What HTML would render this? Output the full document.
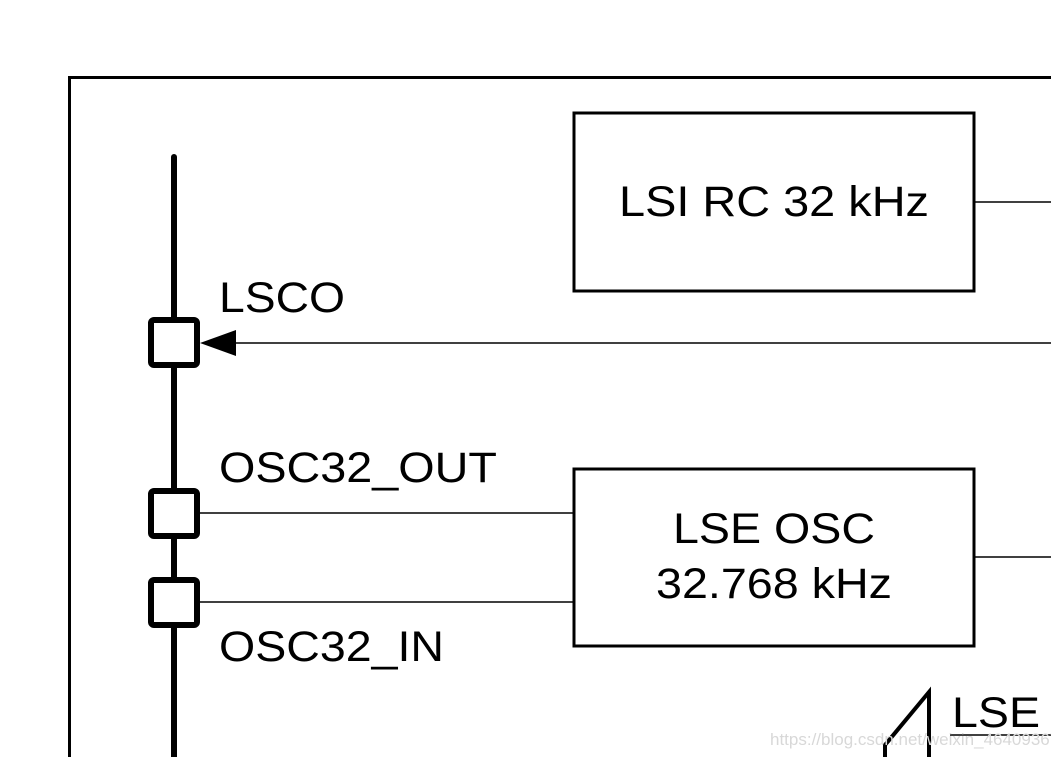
<!DOCTYPE html>
<html><head><style>body{margin:0;background:#fff}svg{display:block}</style></head><body>
<svg width="1051" height="757" xmlns="http://www.w3.org/2000/svg" font-family="Liberation Sans, sans-serif">
<rect width="1051" height="757" fill="#fff"/>
<path d="M69.5 757 V77.5 H1051" fill="none" stroke="#000" stroke-width="3"/>
<line x1="174" y1="157" x2="174" y2="757" stroke="#000" stroke-width="6" stroke-linecap="round"/>
<rect x="574" y="113" width="400" height="178" fill="none" stroke="#000" stroke-width="3"/>
<text x="619" y="216" font-size="43" textLength="310" lengthAdjust="spacingAndGlyphs">LSI RC 32 kHz</text>
<line x1="975" y1="202" x2="1051" y2="202" stroke="#000" stroke-width="1.5"/>
<text x="219" y="312" font-size="43" textLength="126" lengthAdjust="spacingAndGlyphs">LSCO</text>
<line x1="230" y1="343" x2="1051" y2="343" stroke="#000" stroke-width="1.5"/>
<polygon points="200,343 236,330 236,356" fill="#000"/>
<rect x="151" y="320" width="46" height="45" rx="3" fill="#fff" stroke="#000" stroke-width="6"/>
<text x="219" y="482" font-size="43" textLength="278" lengthAdjust="spacingAndGlyphs">OSC32_OUT</text>
<line x1="197" y1="513" x2="574" y2="513" stroke="#000" stroke-width="1.5"/>
<line x1="197" y1="602" x2="574" y2="602" stroke="#000" stroke-width="1.5"/>
<rect x="151" y="491" width="46" height="45" rx="3" fill="#fff" stroke="#000" stroke-width="6"/>
<rect x="151" y="580" width="46" height="45" rx="3" fill="#fff" stroke="#000" stroke-width="6"/>
<text x="219" y="661" font-size="43" textLength="225" lengthAdjust="spacingAndGlyphs">OSC32_IN</text>
<rect x="574" y="469" width="400" height="177" fill="none" stroke="#000" stroke-width="3"/>
<text x="673" y="543" font-size="43" textLength="202" lengthAdjust="spacingAndGlyphs">LSE OSC</text>
<text x="656" y="598" font-size="43" textLength="236" lengthAdjust="spacingAndGlyphs">32.768 kHz</text>
<line x1="975" y1="557" x2="1051" y2="557" stroke="#000" stroke-width="1.5"/>
<path d="M885 757 V745 L929 692 V757" fill="none" stroke="#000" stroke-width="4"/>
<text x="952" y="727" font-size="43" textLength="88" lengthAdjust="spacingAndGlyphs">LSE</text>
<line x1="950" y1="735" x2="1051" y2="735" stroke="#000" stroke-width="1.5"/>
<text x="770" y="745" font-size="17" fill="#d8d8d8">https://blog.csdn.net/weixin_46409367</text>
</svg>
</body></html>
